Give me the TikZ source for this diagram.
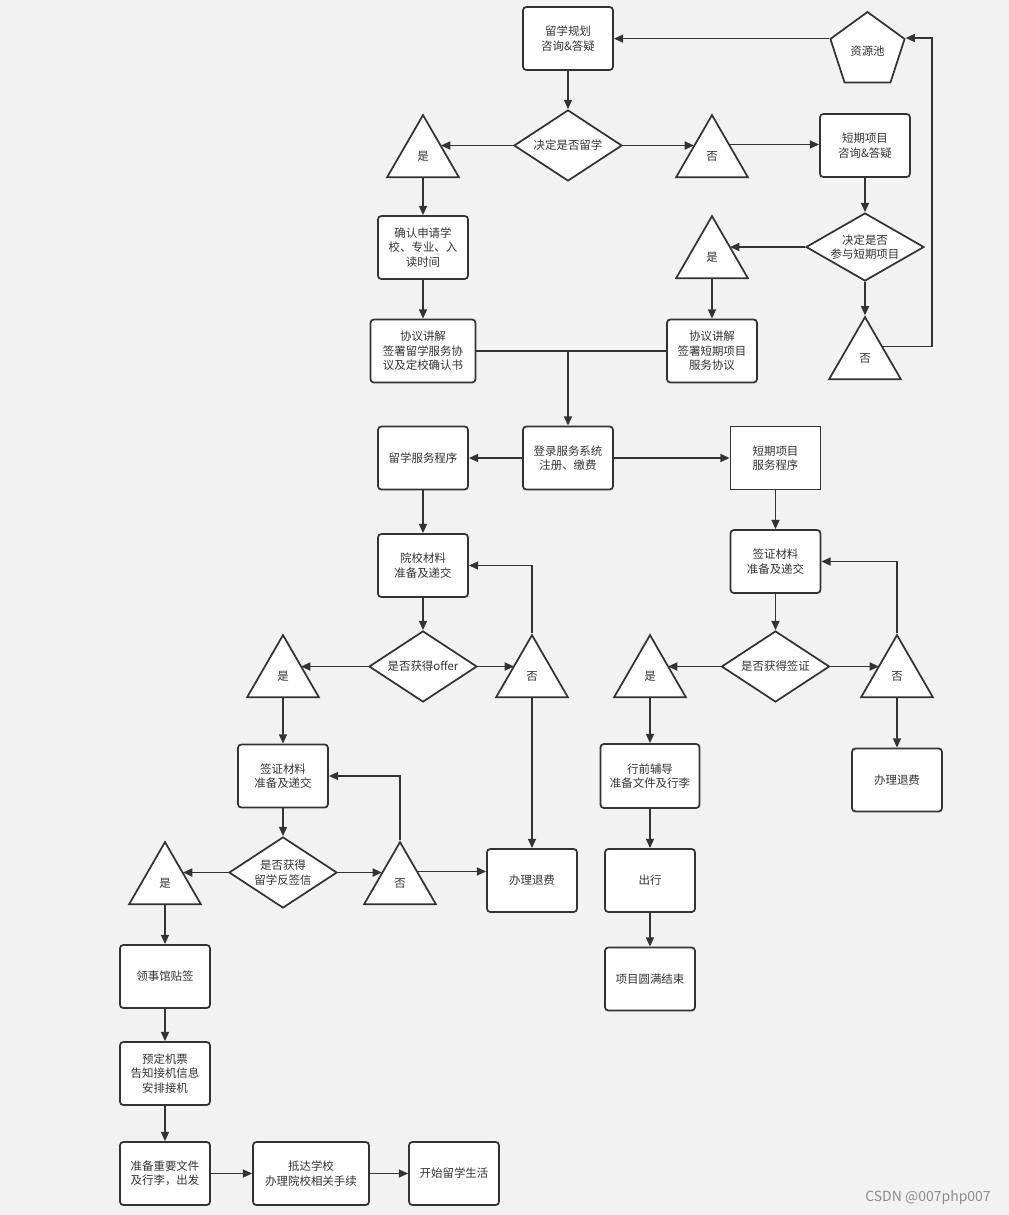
\documentclass[tikz,border=0pt]{standalone}
\usepackage{fontspec}
\setmainfont{Noto Sans CJK SC}
\usepackage{xcolor}
\usepackage{tikz}
\usetikzlibrary{arrows.meta,shapes.geometric}
\definecolor{ink}{HTML}{333333}
\definecolor{paper}{HTML}{F2F2F2}

\begin{document}
\begin{tikzpicture}[
  x=0.75pt, y=-0.75pt,
  every node/.style={font=\fontsize{8.6pt}{10.8pt}\selectfont, text=ink},
  box/.style={draw=ink, line width=1.3pt, rounded corners=2.5pt, fill=white, minimum width=67.5pt, minimum height=47.25pt, align=center, inner sep=1pt},
  sbox/.style={box, rounded corners=0pt},
  dec/.style={draw=ink, line width=1.3pt, diamond, fill=white, aspect=1.52, minimum width=81pt, minimum height=53.25pt, align=center, inner sep=0pt},
  tri/.style={draw=ink, line width=1.3pt, regular polygon, regular polygon sides=3, fill=white, minimum size=62.25pt, inner sep=0pt},
  pent/.style={draw=ink, line width=1.3pt, regular polygon, regular polygon sides=5, fill=white, minimum size=58.5pt, inner sep=0pt},
  wm/.style={font=\fontsize{10.5pt}{12pt}\selectfont, text=black!45},
  arr/.style={-{Triangle[length=7pt,width=6pt]}, line width=1.25pt, draw=ink},
  ln/.style={line width=1.25pt, draw=ink}
]
\fill[paper] (0,0) rectangle (1009,1215);

\node[box] (plan) at (568,38.5) {留学规划\\咨询\&答疑};
\node[pent] (pool) at (867.5,51) {资源池};
\node[dec] (go) at (568,145.5) {决定是否留学};
\node[tri] (goyes) at (423,156.6) {是};
\node[tri] (gono) at (712,156.6) {否};
\node[box] (short) at (865,145.5) {短期项目\\咨询\&答疑};
\node[dec, aspect=1.74, minimum width=88.5pt, minimum height=51pt] (join) at (865,247) {决定是否\\参与短期项目};
\node[tri] (joinyes) at (712,257.6) {是};
\node[tri] (joinno) at (865,358.6) {否};
\node[box] (school) at (423,247.5) {确认申请学\\校、专业、入\\读时间};
\node[box, minimum width=78.75pt] (agr) at (423,351) {协议讲解\\签署留学服务协\\议及定校确认书};
\node[box] (sagr) at (712,351) {协议讲解\\签署短期项目\\服务协议};
\coordinate (loop) at (932,38);

\node[box] (login) at (568,458) {登录服务系统\\注册、缴费};
\node[box] (proc) at (423,458) {留学服务程序};
\node[sbox] (sproc) at (775.5,458) {短期项目\\服务程序};

\node[box] (apply) at (423,565.5) {院校材料\\准备及递交};
\node[dec] (offer) at (423,666.5) {是否获得offer};
\node[tri] (offeryes) at (283,676.6) {是};
\node[tri] (offerno) at (532,676.6) {否};
\node[box] (refund) at (532,880.5) {办理退费};
\node[box] (visa) at (283,776) {签证材料\\准备及递交};
\node[dec] (cas) at (283,872.5) {是否获得\\留学反签信};
\node[tri] (casyes) at (165,883.6) {是};
\node[tri] (casno) at (400,883.6) {否};
\node[box] (stamp) at (165,976.5) {领事馆贴签};
\node[box] (flight) at (165,1073.5) {预定机票\\告知接机信息\\安排接机};
\node[box] (leave) at (165,1173.5) {准备重要文件\\及行李，出发};
\node[box, minimum width=87pt] (arrive) at (311,1173.5) {抵达学校\\办理院校相关手续};
\node[box] (start) at (454,1173.5) {开始留学生活};

\node[box] (svisa) at (775.5,561.5) {签证材料\\准备及递交};
\node[dec] (sget) at (775.5,666.5) {是否获得签证};
\node[tri] (sgetyes) at (650,676.6) {是};
\node[tri] (sgetno) at (897,676.6) {否};
\node[box] (srefund) at (897,780) {办理退费};
\node[box, minimum width=74.25pt, minimum height=48pt] (brief) at (650,776) {行前辅导\\准备文件及行李};
\node[box] (trip) at (650,880.5) {出行};
\node[box] (done) at (650,979) {项目圆满结束};

\node[wm] (credit) at (928,1198) {CSDN @007php007};

\draw[arr] (plan.south) -- (go.north);
\draw[arr] (pool.corner 2) -- (pool.corner 2 -| plan.east);
\draw[arr] (go.west) -- (go.west -| goyes.34);
\draw[arr] (go.east) -- (go.east -| gono.146);
\draw[arr] (gono.34) -- (gono.34 -| short.west);
\draw[arr] (goyes.south) -- (school.north);
\draw[arr] (school.south) -- (agr.north);
\draw[arr] (short.south) -- (join.north);
\draw[arr] (join.west) -- (join.west -| joinyes.34);
\draw[arr] (join.south) -- (joinno.north);
\draw[arr] (joinyes.south) -- (sagr.north);
\draw[arr] (joinno.34) -| (loop) -- (loop -| pool.corner 5);
\draw[ln] (agr.east) -- (sagr.west);
\draw[arr] (agr.east -| login.north) -- (login.north);

\draw[arr] (login.west) -- (proc.east);
\draw[arr] (login.east) -- (sproc.west);
\draw[arr] (proc.south) -- (apply.north);
\draw[arr] (apply.south) -- (offer.north);
\draw[arr] (offer.west) -- (offer.west -| offeryes.34);
\draw[arr] (offer.east) -- (offer.east -| offerno.146);
\draw[arr] (offerno.north) |- (apply.east);
\draw[arr] (offerno.south) -- (refund.north);
\draw[arr] (offeryes.south) -- (visa.north);
\draw[arr] (visa.south) -- (cas.north);
\draw[arr] (cas.west) -- (cas.west -| casyes.34);
\draw[arr] (cas.east) -- (cas.east -| casno.146);
\draw[arr] (casno.north) |- (visa.east);
\draw[arr] (casno.34) -- (casno.34 -| refund.west);
\draw[arr] (casyes.south) -- (stamp.north);
\draw[arr] (stamp.south) -- (flight.north);
\draw[arr] (flight.south) -- (leave.north);
\draw[arr] (leave.east) -- (arrive.west);
\draw[arr] (arrive.east) -- (start.west);

\draw[arr] (sproc.south) -- (svisa.north);
\draw[arr] (svisa.south) -- (sget.north);
\draw[arr] (sget.west) -- (sget.west -| sgetyes.34);
\draw[arr] (sget.east) -- (sget.east -| sgetno.146);
\draw[arr] (sgetno.north) |- (svisa.east);
\draw[arr] (sgetno.south) -- (srefund.north);
\draw[arr] (sgetyes.south) -- (brief.north);
\draw[arr] (brief.south) -- (trip.north);
\draw[arr] (trip.south) -- (done.north);
\end{tikzpicture}
\end{document}
